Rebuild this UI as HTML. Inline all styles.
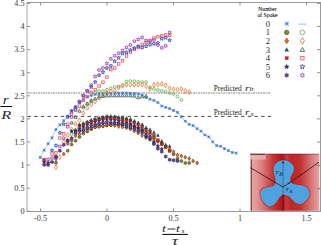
<!DOCTYPE html>
<html><head><meta charset="utf-8"><style>
html,body{margin:0;padding:0;background:#fff;}
svg{display:block;}
text{font-family:"Liberation Serif",serif;fill:#222;}
.tl{font-size:8.2px;fill:#383838;}
.pr{font-size:7.45px;fill:#222;}
.pri{font-size:9px;font-style:italic;fill:#222;}
.prs{font-size:6.6px;font-style:italic;fill:#222;}
.lg{font-size:5.6px;fill:#000;stroke:#000;stroke-width:0.05;}
.ln{font-size:8.6px;fill:#2a2a2a;}
.il{font-size:7px;font-style:italic;fill:#111;}
.al{font-size:12px;font-style:italic;fill:#2a2a2a;}
.xl{font-size:11px;font-style:italic;fill:#2a2a2a;}
.xs{font-size:6.5px;font-style:italic;fill:#111;}
.tk{stroke:#777;stroke-width:0.8;}
.f1{fill:#7d8f3c;stroke:#2e3010;stroke-width:0.5;}
.o1{fill:none;stroke:#5cb040;stroke-width:0.8;}
.f2{fill:#e07418;stroke:#4a2008;stroke-width:0.5;}
.o2{fill:none;stroke:#ec7a38;stroke-width:0.85;}
.f3{fill:#17645a;stroke:#0a2a25;stroke-width:0.4;}
.o3{fill:none;stroke:#3f6252;stroke-width:0.85;}
.f4{fill:#e21a22;stroke:#801010;stroke-width:0.3;}
.o4{fill:none;stroke:#ee5660;stroke-width:0.85;}
.f5{fill:#2a2f78;stroke:#14183c;stroke-width:0.4;}
.o5{fill:none;stroke:#3448b4;stroke-width:0.85;}
.f6{fill:#7246a6;stroke:#26103e;stroke-width:0.55;}
.o6{fill:none;stroke:#9e40b0;stroke-width:0.85;}
.m0{stroke:#387ad8;stroke-width:0.8;fill:none;}
.c0{fill:#2a68cc;}
</style></head>
<body>
<svg width="321" height="245" viewBox="0 0 321 245">
<defs>
<linearGradient id="bg" x1="0" x2="1" y1="0" y2="0">
<stop offset="0" stop-color="#eaa8a8"/>
<stop offset="0.08" stop-color="#e49a9a"/>
<stop offset="0.2" stop-color="#d67070"/>
<stop offset="0.32" stop-color="#c43c3c"/>
<stop offset="0.42" stop-color="#b82020"/>
<stop offset="0.47" stop-color="#b01818"/>
<stop offset="0.52" stop-color="#c43a3a"/>
<stop offset="0.6" stop-color="#bc2626"/>
<stop offset="0.72" stop-color="#c23030"/>
<stop offset="0.86" stop-color="#d46e6e"/>
<stop offset="1" stop-color="#e8a4a4"/>
</linearGradient>
</defs>
<rect x="0" y="0" width="321" height="245" fill="#fff"/>
<!-- axes -->
<line x1="27" y1="2.5" x2="27" y2="211.5" stroke="#d4d4d4" stroke-width="2"/>
<line x1="26.5" y1="211.5" x2="320" y2="211.5" stroke="#9a9a9a" stroke-width="1"/>
<line x1="27" y1="2.5" x2="321" y2="2.5" stroke="#9a9a9a" stroke-width="1"/>
<line x1="320.5" y1="2" x2="320.5" y2="212" stroke="#9a9a9a" stroke-width="1"/>
<line x1="40.50" y1="211.5" x2="40.50" y2="208.5" class="tk"/><line x1="40.50" y1="2.5" x2="40.50" y2="5.5" class="tk"/><line x1="107.00" y1="211.5" x2="107.00" y2="208.5" class="tk"/><line x1="107.00" y1="2.5" x2="107.00" y2="5.5" class="tk"/><line x1="173.50" y1="211.5" x2="173.50" y2="208.5" class="tk"/><line x1="173.50" y1="2.5" x2="173.50" y2="5.5" class="tk"/><line x1="240.00" y1="211.5" x2="240.00" y2="208.5" class="tk"/><line x1="240.00" y1="2.5" x2="240.00" y2="5.5" class="tk"/><line x1="306.50" y1="211.5" x2="306.50" y2="208.5" class="tk"/><line x1="306.50" y1="2.5" x2="306.50" y2="5.5" class="tk"/><line x1="27" y1="211.30" x2="30" y2="211.30" class="tk"/><line x1="320" y1="211.30" x2="317" y2="211.30" class="tk"/><line x1="27" y1="188.20" x2="30" y2="188.20" class="tk"/><line x1="320" y1="188.20" x2="317" y2="188.20" class="tk"/><line x1="27" y1="165.10" x2="30" y2="165.10" class="tk"/><line x1="320" y1="165.10" x2="317" y2="165.10" class="tk"/><line x1="27" y1="142.00" x2="30" y2="142.00" class="tk"/><line x1="320" y1="142.00" x2="317" y2="142.00" class="tk"/><line x1="27" y1="118.90" x2="30" y2="118.90" class="tk"/><line x1="320" y1="118.90" x2="317" y2="118.90" class="tk"/><line x1="27" y1="95.80" x2="30" y2="95.80" class="tk"/><line x1="320" y1="95.80" x2="317" y2="95.80" class="tk"/><line x1="27" y1="72.70" x2="30" y2="72.70" class="tk"/><line x1="320" y1="72.70" x2="317" y2="72.70" class="tk"/><line x1="27" y1="49.60" x2="30" y2="49.60" class="tk"/><line x1="320" y1="49.60" x2="317" y2="49.60" class="tk"/><line x1="27" y1="26.50" x2="30" y2="26.50" class="tk"/><line x1="320" y1="26.50" x2="317" y2="26.50" class="tk"/><line x1="27" y1="3.40" x2="30" y2="3.40" class="tk"/><line x1="320" y1="3.40" x2="317" y2="3.40" class="tk"/>
<text x="40.50" y="220.6" class="tl" text-anchor="middle">-0.5</text><text x="107.00" y="220.6" class="tl" text-anchor="middle">0</text><text x="173.50" y="220.6" class="tl" text-anchor="middle">0.5</text><text x="240.00" y="220.6" class="tl" text-anchor="middle">1</text><text x="306.50" y="220.6" class="tl" text-anchor="middle">1.5</text><text x="24.6" y="214.10" class="tl" text-anchor="end">0</text><text x="24.6" y="191.00" class="tl" text-anchor="end">0.5</text><text x="24.6" y="167.90" class="tl" text-anchor="end">1</text><text x="24.6" y="144.80" class="tl" text-anchor="end">1.5</text><text x="24.6" y="121.70" class="tl" text-anchor="end">2</text><text x="24.6" y="98.60" class="tl" text-anchor="end">2.5</text><text x="24.6" y="75.50" class="tl" text-anchor="end">3</text><text x="24.6" y="52.40" class="tl" text-anchor="end">3.5</text><text x="24.6" y="29.30" class="tl" text-anchor="end">4</text><text x="24.6" y="6.20" class="tl" text-anchor="end">4.5</text>
<!-- predicted lines -->
<line x1="27.75" y1="93" x2="271" y2="93" stroke="#858585" stroke-width="1.15" stroke-dasharray="2.4 0.7 1.2 0.7"/>
<line x1="27.5" y1="116.4" x2="271" y2="116.4" stroke="#333" stroke-width="0.9" stroke-dasharray="3.4 3.275"/>
<text x="213.7" y="91.4" class="pr">Predicted</text><text transform="translate(245.0,91.0) scale(1.3,1)" class="pri">r</text><text transform="translate(249.6,91.3) scale(1.2,1)" class="prs">b</text>
<text x="213.7" y="115.1" class="pr">Predicted</text><text transform="translate(245.0,114.6) scale(1.3,1)" class="pri">r</text><text transform="translate(250.6,116.1) scale(1.25,1)" class="prs">s</text>
<!-- data -->
<path d="M40.26,157.40 L44.18,150.20 L48.10,143.70 L52.02,137.80 L55.94,129.50 L59.86,124.80 L63.78,120.70 L67.70,116.00 L71.62,111.00 L75.54,106.50 L79.46,102.50 L83.38,99.50 L87.30,97.00 L91.22,95.50 L95.14,94.50 L99.06,94.00 L102.98,93.50 L106.90,93.20 L110.82,93.00 L114.74,93.00 L118.66,93.00 L122.58,93.00 L126.50,93.00 L130.42,93.30 L134.34,93.50 L138.26,94.00 L142.18,95.00 L146.10,97.60 L150.02,99.20 L153.94,100.40 L157.86,102.50 L161.78,106.00 L165.70,107.40 L169.62,108.60 L173.54,110.50 L177.46,112.40 L181.38,116.80 L185.30,121.20 L189.22,124.40 L193.14,125.60 L197.06,128.70 L200.98,131.20 L204.90,135.00 L208.82,136.90 L212.74,141.90 L216.66,145.60 L220.58,146.30 L224.50,148.70 L228.42,150.60 L232.34,152.50 L236.26,153.10" fill="none" stroke="#86aee8" stroke-width="0.65"/>
<path class="m0" d="M40.26,156.05L40.26,158.75M38.91,157.40L41.61,157.40M38.91,156.05L41.61,158.75M38.91,158.75L41.61,156.05"/>
<path class="m0" d="M44.18,148.85L44.18,151.55M42.83,150.20L45.53,150.20M42.83,148.85L45.53,151.55M42.83,151.55L45.53,148.85"/>
<path class="m0" d="M48.10,142.35L48.10,145.05M46.75,143.70L49.45,143.70M46.75,142.35L49.45,145.05M46.75,145.05L49.45,142.35"/>
<path class="m0" d="M52.02,136.45L52.02,139.15M50.67,137.80L53.37,137.80M50.67,136.45L53.37,139.15M50.67,139.15L53.37,136.45"/>
<path class="m0" d="M55.94,128.15L55.94,130.85M54.59,129.50L57.29,129.50M54.59,128.15L57.29,130.85M54.59,130.85L57.29,128.15"/>
<path class="m0" d="M59.86,123.45L59.86,126.15M58.51,124.80L61.21,124.80M58.51,123.45L61.21,126.15M58.51,126.15L61.21,123.45"/>
<path class="m0" d="M63.78,119.35L63.78,122.05M62.43,120.70L65.13,120.70M62.43,119.35L65.13,122.05M62.43,122.05L65.13,119.35"/>
<path class="m0" d="M67.70,114.65L67.70,117.35M66.35,116.00L69.05,116.00M66.35,114.65L69.05,117.35M66.35,117.35L69.05,114.65"/>
<path class="m0" d="M71.62,109.65L71.62,112.35M70.27,111.00L72.97,111.00M70.27,109.65L72.97,112.35M70.27,112.35L72.97,109.65"/>
<path class="m0" d="M75.54,105.15L75.54,107.85M74.19,106.50L76.89,106.50M74.19,105.15L76.89,107.85M74.19,107.85L76.89,105.15"/>
<path class="m0" d="M79.46,101.15L79.46,103.85M78.11,102.50L80.81,102.50M78.11,101.15L80.81,103.85M78.11,103.85L80.81,101.15"/>
<path class="m0" d="M83.38,98.15L83.38,100.85M82.03,99.50L84.73,99.50M82.03,98.15L84.73,100.85M82.03,100.85L84.73,98.15"/>
<path class="m0" d="M87.30,95.65L87.30,98.35M85.95,97.00L88.65,97.00M85.95,95.65L88.65,98.35M85.95,98.35L88.65,95.65"/>
<path class="m0" d="M91.22,94.15L91.22,96.85M89.87,95.50L92.57,95.50M89.87,94.15L92.57,96.85M89.87,96.85L92.57,94.15"/>
<path class="m0" d="M95.14,93.15L95.14,95.85M93.79,94.50L96.49,94.50M93.79,93.15L96.49,95.85M93.79,95.85L96.49,93.15"/>
<path class="m0" d="M99.06,92.65L99.06,95.35M97.71,94.00L100.41,94.00M97.71,92.65L100.41,95.35M97.71,95.35L100.41,92.65"/>
<path class="m0" d="M102.98,92.15L102.98,94.85M101.63,93.50L104.33,93.50M101.63,92.15L104.33,94.85M101.63,94.85L104.33,92.15"/>
<path class="m0" d="M106.90,91.85L106.90,94.55M105.55,93.20L108.25,93.20M105.55,91.85L108.25,94.55M105.55,94.55L108.25,91.85"/>
<path class="m0" d="M110.82,91.65L110.82,94.35M109.47,93.00L112.17,93.00M109.47,91.65L112.17,94.35M109.47,94.35L112.17,91.65"/>
<path class="m0" d="M114.74,91.65L114.74,94.35M113.39,93.00L116.09,93.00M113.39,91.65L116.09,94.35M113.39,94.35L116.09,91.65"/>
<path class="m0" d="M118.66,91.65L118.66,94.35M117.31,93.00L120.01,93.00M117.31,91.65L120.01,94.35M117.31,94.35L120.01,91.65"/>
<path class="m0" d="M122.58,91.65L122.58,94.35M121.23,93.00L123.93,93.00M121.23,91.65L123.93,94.35M121.23,94.35L123.93,91.65"/>
<path class="m0" d="M126.50,91.65L126.50,94.35M125.15,93.00L127.85,93.00M125.15,91.65L127.85,94.35M125.15,94.35L127.85,91.65"/>
<path class="m0" d="M130.42,91.95L130.42,94.65M129.07,93.30L131.77,93.30M129.07,91.95L131.77,94.65M129.07,94.65L131.77,91.95"/>
<path class="m0" d="M134.34,92.15L134.34,94.85M132.99,93.50L135.69,93.50M132.99,92.15L135.69,94.85M132.99,94.85L135.69,92.15"/>
<path class="m0" d="M138.26,92.65L138.26,95.35M136.91,94.00L139.61,94.00M136.91,92.65L139.61,95.35M136.91,95.35L139.61,92.65"/>
<path class="m0" d="M142.18,93.65L142.18,96.35M140.83,95.00L143.53,95.00M140.83,93.65L143.53,96.35M140.83,96.35L143.53,93.65"/>
<path class="m0" d="M146.10,96.25L146.10,98.95M144.75,97.60L147.45,97.60M144.75,96.25L147.45,98.95M144.75,98.95L147.45,96.25"/>
<path class="m0" d="M150.02,97.85L150.02,100.55M148.67,99.20L151.37,99.20M148.67,97.85L151.37,100.55M148.67,100.55L151.37,97.85"/>
<path class="m0" d="M153.94,99.05L153.94,101.75M152.59,100.40L155.29,100.40M152.59,99.05L155.29,101.75M152.59,101.75L155.29,99.05"/>
<path class="m0" d="M157.86,101.15L157.86,103.85M156.51,102.50L159.21,102.50M156.51,101.15L159.21,103.85M156.51,103.85L159.21,101.15"/>
<path class="m0" d="M161.78,104.65L161.78,107.35M160.43,106.00L163.13,106.00M160.43,104.65L163.13,107.35M160.43,107.35L163.13,104.65"/>
<path class="m0" d="M165.70,106.05L165.70,108.75M164.35,107.40L167.05,107.40M164.35,106.05L167.05,108.75M164.35,108.75L167.05,106.05"/>
<path class="m0" d="M169.62,107.25L169.62,109.95M168.27,108.60L170.97,108.60M168.27,107.25L170.97,109.95M168.27,109.95L170.97,107.25"/>
<path class="m0" d="M173.54,109.15L173.54,111.85M172.19,110.50L174.89,110.50M172.19,109.15L174.89,111.85M172.19,111.85L174.89,109.15"/>
<path class="m0" d="M177.46,111.05L177.46,113.75M176.11,112.40L178.81,112.40M176.11,111.05L178.81,113.75M176.11,113.75L178.81,111.05"/>
<path class="m0" d="M181.38,115.45L181.38,118.15M180.03,116.80L182.73,116.80M180.03,115.45L182.73,118.15M180.03,118.15L182.73,115.45"/>
<path class="m0" d="M185.30,119.85L185.30,122.55M183.95,121.20L186.65,121.20M183.95,119.85L186.65,122.55M183.95,122.55L186.65,119.85"/>
<path class="m0" d="M189.22,123.05L189.22,125.75M187.87,124.40L190.57,124.40M187.87,123.05L190.57,125.75M187.87,125.75L190.57,123.05"/>
<path class="m0" d="M193.14,124.25L193.14,126.95M191.79,125.60L194.49,125.60M191.79,124.25L194.49,126.95M191.79,126.95L194.49,124.25"/>
<path class="m0" d="M197.06,127.35L197.06,130.05M195.71,128.70L198.41,128.70M195.71,127.35L198.41,130.05M195.71,130.05L198.41,127.35"/>
<path class="m0" d="M200.98,129.85L200.98,132.55M199.63,131.20L202.33,131.20M199.63,129.85L202.33,132.55M199.63,132.55L202.33,129.85"/>
<path class="m0" d="M204.90,133.65L204.90,136.35M203.55,135.00L206.25,135.00M203.55,133.65L206.25,136.35M203.55,136.35L206.25,133.65"/>
<path class="m0" d="M208.82,135.55L208.82,138.25M207.47,136.90L210.17,136.90M207.47,135.55L210.17,138.25M207.47,138.25L210.17,135.55"/>
<path class="m0" d="M212.74,140.55L212.74,143.25M211.39,141.90L214.09,141.90M211.39,140.55L214.09,143.25M211.39,143.25L214.09,140.55"/>
<path class="m0" d="M216.66,144.25L216.66,146.95M215.31,145.60L218.01,145.60M215.31,144.25L218.01,146.95M215.31,146.95L218.01,144.25"/>
<path class="m0" d="M220.58,144.95L220.58,147.65M219.23,146.30L221.93,146.30M219.23,144.95L221.93,147.65M219.23,147.65L221.93,144.95"/>
<path class="m0" d="M224.50,147.35L224.50,150.05M223.15,148.70L225.85,148.70M223.15,147.35L225.85,150.05M223.15,150.05L225.85,147.35"/>
<path class="m0" d="M228.42,149.25L228.42,151.95M227.07,150.60L229.77,150.60M227.07,149.25L229.77,151.95M227.07,151.95L229.77,149.25"/>
<path class="m0" d="M232.34,151.15L232.34,153.85M230.99,152.50L233.69,152.50M230.99,151.15L233.69,153.85M230.99,153.85L233.69,151.15"/>
<path class="m0" d="M236.26,151.75L236.26,154.45M234.91,153.10L237.61,153.10M234.91,151.75L237.61,154.45M234.91,154.45L237.61,151.75"/>
<circle cx="71.62" cy="134.20" r="1.40" class="o1"/>
<circle cx="75.54" cy="130.00" r="1.40" class="o1"/>
<circle cx="79.46" cy="127.20" r="1.40" class="o1"/>
<circle cx="83.38" cy="108.00" r="1.40" class="o1"/>
<circle cx="87.30" cy="103.50" r="1.40" class="o1"/>
<circle cx="91.22" cy="100.20" r="1.40" class="o1"/>
<circle cx="95.14" cy="92.80" r="1.40" class="o1"/>
<circle cx="99.06" cy="91.20" r="1.40" class="o1"/>
<circle cx="102.98" cy="91.20" r="1.40" class="o1"/>
<circle cx="106.90" cy="89.80" r="1.40" class="o1"/>
<circle cx="110.82" cy="88.30" r="1.40" class="o1"/>
<circle cx="114.74" cy="87.00" r="1.40" class="o1"/>
<circle cx="118.66" cy="86.40" r="1.40" class="o1"/>
<circle cx="122.58" cy="85.30" r="1.40" class="o1"/>
<circle cx="126.50" cy="81.50" r="1.40" class="o1"/>
<circle cx="130.42" cy="81.00" r="1.40" class="o1"/>
<circle cx="134.34" cy="81.30" r="1.40" class="o1"/>
<circle cx="138.26" cy="81.80" r="1.40" class="o1"/>
<circle cx="142.18" cy="82.20" r="1.40" class="o1"/>
<circle cx="146.10" cy="82.20" r="1.40" class="o1"/>
<circle cx="150.02" cy="87.30" r="1.40" class="o1"/>
<circle cx="153.94" cy="89.00" r="1.40" class="o1"/>
<circle cx="157.86" cy="90.00" r="1.40" class="o1"/>
<circle cx="161.78" cy="91.00" r="1.40" class="o1"/>
<circle cx="165.70" cy="91.50" r="1.40" class="o1"/>
<circle cx="169.62" cy="93.00" r="1.40" class="o1"/>
<circle cx="173.54" cy="94.00" r="1.40" class="o1"/>
<circle cx="177.46" cy="96.50" r="1.40" class="o1"/>
<circle cx="181.38" cy="100.00" r="1.40" class="o1"/>
<polygon points="55.94,164.85 57.39,167.20 55.94,169.55 54.49,167.20" class="o2"/>
<polygon points="59.86,154.85 61.31,157.20 59.86,159.55 58.41,157.20" class="o2"/>
<polygon points="63.78,139.55 65.23,141.90 63.78,144.25 62.33,141.90" class="o2"/>
<polygon points="67.70,132.65 69.15,135.00 67.70,137.35 66.25,135.00" class="o2"/>
<polygon points="71.62,126.95 73.07,129.30 71.62,131.65 70.17,129.30" class="o2"/>
<polygon points="75.54,121.65 76.99,124.00 75.54,126.35 74.09,124.00" class="o2"/>
<polygon points="79.46,118.15 80.91,120.50 79.46,122.85 78.01,120.50" class="o2"/>
<polygon points="83.38,110.55 84.83,112.90 83.38,115.25 81.93,112.90" class="o2"/>
<polygon points="87.30,105.45 88.75,107.80 87.30,110.15 85.85,107.80" class="o2"/>
<polygon points="91.22,101.85 92.67,104.20 91.22,106.55 89.77,104.20" class="o2"/>
<polygon points="95.14,99.05 96.59,101.40 95.14,103.75 93.69,101.40" class="o2"/>
<polygon points="99.06,95.65 100.51,98.00 99.06,100.35 97.61,98.00" class="o2"/>
<polygon points="102.98,93.15 104.43,95.50 102.98,97.85 101.53,95.50" class="o2"/>
<polygon points="106.90,90.55 108.35,92.90 106.90,95.25 105.45,92.90" class="o2"/>
<polygon points="110.82,88.85 112.27,91.20 110.82,93.55 109.37,91.20" class="o2"/>
<polygon points="114.74,88.15 116.19,90.50 114.74,92.85 113.29,90.50" class="o2"/>
<polygon points="118.66,85.25 120.11,87.60 118.66,89.95 117.21,87.60" class="o2"/>
<polygon points="122.58,83.45 124.03,85.80 122.58,88.15 121.13,85.80" class="o2"/>
<polygon points="126.50,82.45 127.95,84.80 126.50,87.15 125.05,84.80" class="o2"/>
<polygon points="130.42,82.45 131.87,84.80 130.42,87.15 128.97,84.80" class="o2"/>
<polygon points="134.34,82.45 135.79,84.80 134.34,87.15 132.89,84.80" class="o2"/>
<polygon points="138.26,82.45 139.71,84.80 138.26,87.15 136.81,84.80" class="o2"/>
<polygon points="142.18,82.45 143.63,84.80 142.18,87.15 140.73,84.80" class="o2"/>
<polygon points="146.10,83.95 147.55,86.30 146.10,88.65 144.65,86.30" class="o2"/>
<polygon points="150.02,86.65 151.47,89.00 150.02,91.35 148.57,89.00" class="o2"/>
<polygon points="153.94,82.45 155.39,84.80 153.94,87.15 152.49,84.80" class="o2"/>
<polygon points="157.86,81.85 159.31,84.20 157.86,86.55 156.41,84.20" class="o2"/>
<polygon points="161.78,81.35 163.23,83.70 161.78,86.05 160.33,83.70" class="o2"/>
<polygon points="165.70,82.95 167.15,85.30 165.70,87.65 164.25,85.30" class="o2"/>
<polygon points="169.62,85.95 171.07,88.30 169.62,90.65 168.17,88.30" class="o2"/>
<polygon points="173.54,86.95 174.99,89.30 173.54,91.65 172.09,89.30" class="o2"/>
<polygon points="177.46,87.15 178.91,89.50 177.46,91.85 176.01,89.50" class="o2"/>
<polygon points="181.38,86.75 182.83,89.10 181.38,91.45 179.93,89.10" class="o2"/>
<polygon points="185.30,88.55 186.75,90.90 185.30,93.25 183.85,90.90" class="o2"/>
<polygon points="189.22,89.75 190.67,92.10 189.22,94.45 187.77,92.10" class="o2"/>
<polygon points="71.62,121.10 73.27,124.06 69.97,124.06" class="o3"/>
<polygon points="75.54,115.40 77.19,118.36 73.89,118.36" class="o3"/>
<polygon points="79.46,109.20 81.11,112.16 77.81,112.16" class="o3"/>
<polygon points="83.38,104.70 85.03,107.66 81.73,107.66" class="o3"/>
<polygon points="87.30,102.10 88.95,105.06 85.65,105.06" class="o3"/>
<polygon points="91.22,99.10 92.87,102.06 89.57,102.06" class="o3"/>
<polygon points="95.14,97.00 96.79,99.96 93.49,99.96" class="o3"/>
<polygon points="99.06,95.10 100.71,98.06 97.41,98.06" class="o3"/>
<polygon points="102.98,94.40 104.63,97.36 101.33,97.36" class="o3"/>
<polygon points="106.90,94.00 108.55,96.96 105.25,96.96" class="o3"/>
<polygon points="110.82,93.90 112.47,96.86 109.17,96.86" class="o3"/>
<polygon points="114.74,93.90 116.39,96.86 113.09,96.86" class="o3"/>
<polygon points="118.66,93.90 120.31,96.86 117.01,96.86" class="o3"/>
<polygon points="122.58,93.90 124.23,96.86 120.93,96.86" class="o3"/>
<polygon points="126.50,93.90 128.15,96.86 124.85,96.86" class="o3"/>
<polygon points="130.42,93.90 132.07,96.86 128.77,96.86" class="o3"/>
<polygon points="134.34,94.20 135.99,97.16 132.69,97.16" class="o3"/>
<polygon points="138.26,95.70 139.91,98.66 136.61,98.66" class="o3"/>
<polygon points="142.18,94.90 143.83,97.86 140.53,97.86" class="o3"/>
<polygon points="146.10,94.20 147.75,97.16 144.45,97.16" class="o3"/>
<rect x="50.77" y="152.85" width="2.50" height="2.50" class="o4"/>
<rect x="54.69" y="151.65" width="2.50" height="2.50" class="o4"/>
<rect x="58.61" y="136.75" width="2.50" height="2.50" class="o4"/>
<rect x="62.53" y="132.55" width="2.50" height="2.50" class="o4"/>
<rect x="66.45" y="122.95" width="2.50" height="2.50" class="o4"/>
<rect x="70.37" y="113.25" width="2.50" height="2.50" class="o4"/>
<rect x="74.29" y="108.75" width="2.50" height="2.50" class="o4"/>
<rect x="78.21" y="104.95" width="2.50" height="2.50" class="o4"/>
<rect x="82.13" y="99.35" width="2.50" height="2.50" class="o4"/>
<rect x="86.05" y="95.35" width="2.50" height="2.50" class="o4"/>
<rect x="89.97" y="91.25" width="2.50" height="2.50" class="o4"/>
<rect x="93.89" y="88.35" width="2.50" height="2.50" class="o4"/>
<rect x="97.81" y="84.75" width="2.50" height="2.50" class="o4"/>
<rect x="101.73" y="80.95" width="2.50" height="2.50" class="o4"/>
<rect x="105.65" y="75.85" width="2.50" height="2.50" class="o4"/>
<rect x="109.57" y="68.25" width="2.50" height="2.50" class="o4"/>
<rect x="113.49" y="66.75" width="2.50" height="2.50" class="o4"/>
<rect x="117.41" y="62.65" width="2.50" height="2.50" class="o4"/>
<rect x="121.33" y="59.55" width="2.50" height="2.50" class="o4"/>
<rect x="125.25" y="54.75" width="2.50" height="2.50" class="o4"/>
<rect x="129.17" y="50.65" width="2.50" height="2.50" class="o4"/>
<rect x="133.09" y="48.15" width="2.50" height="2.50" class="o4"/>
<rect x="137.01" y="46.25" width="2.50" height="2.50" class="o4"/>
<rect x="140.93" y="43.15" width="2.50" height="2.50" class="o4"/>
<rect x="144.85" y="41.25" width="2.50" height="2.50" class="o4"/>
<rect x="148.77" y="40.00" width="2.50" height="2.50" class="o4"/>
<rect x="152.69" y="36.85" width="2.50" height="2.50" class="o4"/>
<rect x="156.61" y="35.55" width="2.50" height="2.50" class="o4"/>
<rect x="160.53" y="34.65" width="2.50" height="2.50" class="o4"/>
<rect x="164.45" y="33.75" width="2.50" height="2.50" class="o4"/>
<rect x="168.37" y="33.95" width="2.50" height="2.50" class="o4"/>
<polygon points="52.02,148.60 52.49,149.85 53.83,149.91 52.78,150.75 53.14,152.04 52.02,151.30 50.90,152.04 51.26,150.75 50.21,149.91 51.55,149.85" class="o5"/>
<polygon points="55.94,143.70 56.41,144.95 57.75,145.01 56.70,145.85 57.06,147.14 55.94,146.40 54.82,147.14 55.18,145.85 54.13,145.01 55.47,144.95" class="o5"/>
<polygon points="59.86,131.00 60.33,132.25 61.67,132.31 60.62,133.15 60.98,134.44 59.86,133.70 58.74,134.44 59.10,133.15 58.05,132.31 59.39,132.25" class="o5"/>
<polygon points="63.78,122.30 64.25,123.55 65.59,123.61 64.54,124.45 64.90,125.74 63.78,125.00 62.66,125.74 63.02,124.45 61.97,123.61 63.31,123.55" class="o5"/>
<polygon points="67.70,115.10 68.17,116.35 69.51,116.41 68.46,117.25 68.82,118.54 67.70,117.80 66.58,118.54 66.94,117.25 65.89,116.41 67.23,116.35" class="o5"/>
<polygon points="71.62,109.10 72.09,110.35 73.43,110.41 72.38,111.25 72.74,112.54 71.62,111.80 70.50,112.54 70.86,111.25 69.81,110.41 71.15,110.35" class="o5"/>
<polygon points="75.54,105.80 76.01,107.05 77.35,107.11 76.30,107.95 76.66,109.24 75.54,108.50 74.42,109.24 74.78,107.95 73.73,107.11 75.07,107.05" class="o5"/>
<polygon points="79.46,100.10 79.93,101.35 81.27,101.41 80.22,102.25 80.58,103.54 79.46,102.80 78.34,103.54 78.70,102.25 77.65,101.41 78.99,101.35" class="o5"/>
<polygon points="83.38,94.10 83.85,95.35 85.19,95.41 84.14,96.25 84.50,97.54 83.38,96.80 82.26,97.54 82.62,96.25 81.57,95.41 82.91,95.35" class="o5"/>
<polygon points="87.30,89.10 87.77,90.35 89.11,90.41 88.06,91.25 88.42,92.54 87.30,91.80 86.18,92.54 86.54,91.25 85.49,90.41 86.83,90.35" class="o5"/>
<polygon points="91.22,85.00 91.69,86.25 93.03,86.31 91.98,87.15 92.34,88.44 91.22,87.70 90.10,88.44 90.46,87.15 89.41,86.31 90.75,86.25" class="o5"/>
<polygon points="95.14,80.10 95.61,81.35 96.95,81.41 95.90,82.25 96.26,83.54 95.14,82.80 94.02,83.54 94.38,82.25 93.33,81.41 94.67,81.35" class="o5"/>
<polygon points="99.06,73.30 99.53,74.55 100.87,74.61 99.82,75.45 100.18,76.74 99.06,76.00 97.94,76.74 98.30,75.45 97.25,74.61 98.59,74.55" class="o5"/>
<polygon points="102.98,70.30 103.45,71.55 104.79,71.61 103.74,72.45 104.10,73.74 102.98,73.00 101.86,73.74 102.22,72.45 101.17,71.61 102.51,71.55" class="o5"/>
<polygon points="106.90,66.10 107.37,67.35 108.71,67.41 107.66,68.25 108.02,69.54 106.90,68.80 105.78,69.54 106.14,68.25 105.09,67.41 106.43,67.35" class="o5"/>
<polygon points="110.82,64.00 111.29,65.25 112.63,65.31 111.58,66.15 111.94,67.44 110.82,66.70 109.70,67.44 110.06,66.15 109.01,65.31 110.35,65.25" class="o5"/>
<polygon points="114.74,59.40 115.21,60.65 116.55,60.71 115.50,61.55 115.86,62.84 114.74,62.10 113.62,62.84 113.98,61.55 112.93,60.71 114.27,60.65" class="o5"/>
<polygon points="118.66,55.90 119.13,57.15 120.47,57.21 119.42,58.05 119.78,59.34 118.66,58.60 117.54,59.34 117.90,58.05 116.85,57.21 118.19,57.15" class="o5"/>
<polygon points="122.58,51.60 123.05,52.85 124.39,52.91 123.34,53.75 123.70,55.04 122.58,54.30 121.46,55.04 121.82,53.75 120.77,52.91 122.11,52.85" class="o5"/>
<polygon points="126.50,50.60 126.97,51.85 128.31,51.91 127.26,52.75 127.62,54.04 126.50,53.30 125.38,54.04 125.74,52.75 124.69,51.91 126.03,51.85" class="o5"/>
<polygon points="130.42,48.10 130.89,49.35 132.23,49.41 131.18,50.25 131.54,51.54 130.42,50.80 129.30,51.54 129.66,50.25 128.61,49.41 129.95,49.35" class="o5"/>
<polygon points="134.34,46.20 134.81,47.45 136.15,47.51 135.10,48.35 135.46,49.64 134.34,48.90 133.22,49.64 133.58,48.35 132.53,47.51 133.87,47.45" class="o5"/>
<polygon points="138.26,44.35 138.73,45.60 140.07,45.66 139.02,46.50 139.38,47.79 138.26,47.05 137.14,47.79 137.50,46.50 136.45,45.66 137.79,45.60" class="o5"/>
<polygon points="142.18,45.60 142.65,46.85 143.99,46.91 142.94,47.75 143.30,49.04 142.18,48.30 141.06,49.04 141.42,47.75 140.37,46.91 141.71,46.85" class="o5"/>
<polygon points="146.10,44.35 146.57,45.60 147.91,45.66 146.86,46.50 147.22,47.79 146.10,47.05 144.98,47.79 145.34,46.50 144.29,45.66 145.63,45.60" class="o5"/>
<polygon points="150.02,42.80 150.49,44.05 151.83,44.11 150.78,44.95 151.14,46.24 150.02,45.50 148.90,46.24 149.26,44.95 148.21,44.11 149.55,44.05" class="o5"/>
<polygon points="153.94,41.85 154.41,43.10 155.75,43.16 154.70,44.00 155.06,45.29 153.94,44.55 152.82,45.29 153.18,44.00 152.13,43.16 153.47,43.10" class="o5"/>
<polygon points="157.86,41.10 158.33,42.35 159.67,42.41 158.62,43.25 158.98,44.54 157.86,43.80 156.74,44.54 157.10,43.25 156.05,42.41 157.39,42.35" class="o5"/>
<polygon points="161.78,36.80 162.25,38.05 163.59,38.11 162.54,38.95 162.90,40.24 161.78,39.50 160.66,40.24 161.02,38.95 159.97,38.11 161.31,38.05" class="o5"/>
<polygon points="165.70,35.80 166.17,37.05 167.51,37.11 166.46,37.95 166.82,39.24 165.70,38.50 164.58,39.24 164.94,37.95 163.89,37.11 165.23,37.05" class="o5"/>
<polygon points="169.62,38.30 170.09,39.55 171.43,39.61 170.38,40.45 170.74,41.74 169.62,41.00 168.50,41.74 168.86,40.45 167.81,39.61 169.15,39.55" class="o5"/>
<polygon points="48.10,157.60 48.60,158.53 49.66,158.50 49.10,159.40 49.66,160.30 48.60,160.27 48.10,161.20 47.60,160.27 46.54,160.30 47.10,159.40 46.54,158.50 47.60,158.53" class="o6"/>
<polygon points="52.02,156.40 52.52,157.33 53.58,157.30 53.02,158.20 53.58,159.10 52.52,159.07 52.02,160.00 51.52,159.07 50.46,159.10 51.02,158.20 50.46,157.30 51.52,157.33" class="o6"/>
<polygon points="55.94,154.80 56.44,155.73 57.50,155.70 56.94,156.60 57.50,157.50 56.44,157.47 55.94,158.40 55.44,157.47 54.38,157.50 54.94,156.60 54.38,155.70 55.44,155.73" class="o6"/>
<polygon points="59.86,144.60 60.36,145.53 61.42,145.50 60.86,146.40 61.42,147.30 60.36,147.27 59.86,148.20 59.36,147.27 58.30,147.30 58.86,146.40 58.30,145.50 59.36,145.53" class="o6"/>
<polygon points="63.78,136.40 64.28,137.33 65.34,137.30 64.78,138.20 65.34,139.10 64.28,139.07 63.78,140.00 63.28,139.07 62.22,139.10 62.78,138.20 62.22,137.30 63.28,137.33" class="o6"/>
<polygon points="67.70,125.00 68.20,125.93 69.26,125.90 68.70,126.80 69.26,127.70 68.20,127.67 67.70,128.60 67.20,127.67 66.14,127.70 66.70,126.80 66.14,125.90 67.20,125.93" class="o6"/>
<polygon points="71.62,115.20 72.12,116.13 73.18,116.10 72.62,117.00 73.18,117.90 72.12,117.87 71.62,118.80 71.12,117.87 70.06,117.90 70.62,117.00 70.06,116.10 71.12,116.13" class="o6"/>
<polygon points="75.54,107.50 76.04,108.43 77.10,108.40 76.54,109.30 77.10,110.20 76.04,110.17 75.54,111.10 75.04,110.17 73.98,110.20 74.54,109.30 73.98,108.40 75.04,108.43" class="o6"/>
<polygon points="79.46,99.70 79.96,100.63 81.02,100.60 80.46,101.50 81.02,102.40 79.96,102.37 79.46,103.30 78.96,102.37 77.90,102.40 78.46,101.50 77.90,100.60 78.96,100.63" class="o6"/>
<polygon points="83.38,93.70 83.88,94.63 84.94,94.60 84.38,95.50 84.94,96.40 83.88,96.37 83.38,97.30 82.88,96.37 81.82,96.40 82.38,95.50 81.82,94.60 82.88,94.63" class="o6"/>
<polygon points="87.30,88.90 87.80,89.83 88.86,89.80 88.30,90.70 88.86,91.60 87.80,91.57 87.30,92.50 86.80,91.57 85.74,91.60 86.30,90.70 85.74,89.80 86.80,89.83" class="o6"/>
<polygon points="91.22,83.30 91.72,84.23 92.78,84.20 92.22,85.10 92.78,86.00 91.72,85.97 91.22,86.90 90.72,85.97 89.66,86.00 90.22,85.10 89.66,84.20 90.72,84.23" class="o6"/>
<polygon points="95.14,74.70 95.64,75.63 96.70,75.60 96.14,76.50 96.70,77.40 95.64,77.37 95.14,78.30 94.64,77.37 93.58,77.40 94.14,76.50 93.58,75.60 94.64,75.63" class="o6"/>
<polygon points="99.06,68.20 99.56,69.13 100.62,69.10 100.06,70.00 100.62,70.90 99.56,70.87 99.06,71.80 98.56,70.87 97.50,70.90 98.06,70.00 97.50,69.10 98.56,69.13" class="o6"/>
<polygon points="102.98,66.20 103.48,67.13 104.54,67.10 103.98,68.00 104.54,68.90 103.48,68.87 102.98,69.80 102.48,68.87 101.42,68.90 101.98,68.00 101.42,67.10 102.48,67.13" class="o6"/>
<polygon points="106.90,61.60 107.40,62.53 108.46,62.50 107.90,63.40 108.46,64.30 107.40,64.27 106.90,65.20 106.40,64.27 105.34,64.30 105.90,63.40 105.34,62.50 106.40,62.53" class="o6"/>
<polygon points="110.82,57.00 111.32,57.93 112.38,57.90 111.82,58.80 112.38,59.70 111.32,59.67 110.82,60.60 110.32,59.67 109.26,59.70 109.82,58.80 109.26,57.90 110.32,57.93" class="o6"/>
<polygon points="114.74,53.90 115.24,54.83 116.30,54.80 115.74,55.70 116.30,56.60 115.24,56.57 114.74,57.50 114.24,56.57 113.18,56.60 113.74,55.70 113.18,54.80 114.24,54.83" class="o6"/>
<polygon points="118.66,51.40 119.16,52.33 120.22,52.30 119.66,53.20 120.22,54.10 119.16,54.07 118.66,55.00 118.16,54.07 117.10,54.10 117.66,53.20 117.10,52.30 118.16,52.33" class="o6"/>
<polygon points="122.58,48.80 123.08,49.73 124.14,49.70 123.58,50.60 124.14,51.50 123.08,51.47 122.58,52.40 122.08,51.47 121.02,51.50 121.58,50.60 121.02,49.70 122.08,49.73" class="o6"/>
<polygon points="126.50,45.70 127.00,46.63 128.06,46.60 127.50,47.50 128.06,48.40 127.00,48.37 126.50,49.30 126.00,48.37 124.94,48.40 125.50,47.50 124.94,46.60 126.00,46.63" class="o6"/>
<polygon points="130.42,43.20 130.92,44.13 131.98,44.10 131.42,45.00 131.98,45.90 130.92,45.87 130.42,46.80 129.92,45.87 128.86,45.90 129.42,45.00 128.86,44.10 129.92,44.13" class="o6"/>
<polygon points="134.34,39.45 134.84,40.38 135.90,40.35 135.34,41.25 135.90,42.15 134.84,42.12 134.34,43.05 133.84,42.12 132.78,42.15 133.34,41.25 132.78,40.35 133.84,40.38" class="o6"/>
<polygon points="138.26,37.60 138.76,38.53 139.82,38.50 139.26,39.40 139.82,40.30 138.76,40.27 138.26,41.20 137.76,40.27 136.70,40.30 137.26,39.40 136.70,38.50 137.76,38.53" class="o6"/>
<polygon points="142.18,35.70 142.68,36.63 143.74,36.60 143.18,37.50 143.74,38.40 142.68,38.37 142.18,39.30 141.68,38.37 140.62,38.40 141.18,37.50 140.62,36.60 141.68,36.63" class="o6"/>
<polygon points="146.10,38.80 146.60,39.73 147.66,39.70 147.10,40.60 147.66,41.50 146.60,41.47 146.10,42.40 145.60,41.47 144.54,41.50 145.10,40.60 144.54,39.70 145.60,39.73" class="o6"/>
<polygon points="150.02,38.80 150.52,39.73 151.58,39.70 151.02,40.60 151.58,41.50 150.52,41.47 150.02,42.40 149.52,41.47 148.46,41.50 149.02,40.60 148.46,39.70 149.52,39.73" class="o6"/>
<polygon points="153.94,38.20 154.44,39.13 155.50,39.10 154.94,40.00 155.50,40.90 154.44,40.87 153.94,41.80 153.44,40.87 152.38,40.90 152.94,40.00 152.38,39.10 153.44,39.13" class="o6"/>
<polygon points="157.86,43.20 158.36,44.13 159.42,44.10 158.86,45.00 159.42,45.90 158.36,45.87 157.86,46.80 157.36,45.87 156.30,45.90 156.86,45.00 156.30,44.10 157.36,44.13" class="o6"/>
<polygon points="161.78,46.10 162.28,47.03 163.34,47.00 162.78,47.90 163.34,48.80 162.28,48.77 161.78,49.70 161.28,48.77 160.22,48.80 160.78,47.90 160.22,47.00 161.28,47.03" class="o6"/>
<polygon points="165.70,44.10 166.20,45.03 167.26,45.00 166.70,45.90 167.26,46.80 166.20,46.77 165.70,47.70 165.20,46.77 164.14,46.80 164.70,45.90 164.14,45.00 165.20,45.03" class="o6"/>
<polygon points="169.62,30.80 170.12,31.73 171.18,31.70 170.62,32.60 171.18,33.50 170.12,33.47 169.62,34.40 169.12,33.47 168.06,33.50 168.62,32.60 168.06,31.70 169.12,31.73" class="o6"/>
<circle cx="55.94" cy="162.80" r="1.50" class="f1"/>
<circle cx="67.70" cy="150.70" r="1.50" class="f1"/>
<circle cx="71.62" cy="144.50" r="1.50" class="f1"/>
<circle cx="75.54" cy="140.70" r="1.50" class="f1"/>
<circle cx="79.46" cy="137.00" r="1.50" class="f1"/>
<circle cx="83.38" cy="133.60" r="1.50" class="f1"/>
<circle cx="87.30" cy="131.50" r="1.50" class="f1"/>
<circle cx="91.22" cy="129.30" r="1.50" class="f1"/>
<circle cx="95.14" cy="127.20" r="1.50" class="f1"/>
<circle cx="99.06" cy="126.50" r="1.50" class="f1"/>
<circle cx="102.98" cy="126.00" r="1.50" class="f1"/>
<circle cx="106.90" cy="125.50" r="1.50" class="f1"/>
<circle cx="110.82" cy="125.00" r="1.50" class="f1"/>
<circle cx="114.74" cy="124.80" r="1.50" class="f1"/>
<circle cx="118.66" cy="124.50" r="1.50" class="f1"/>
<circle cx="122.58" cy="124.30" r="1.50" class="f1"/>
<circle cx="126.50" cy="124.30" r="1.50" class="f1"/>
<circle cx="130.42" cy="125.00" r="1.50" class="f1"/>
<circle cx="134.34" cy="126.70" r="1.50" class="f1"/>
<circle cx="138.26" cy="128.00" r="1.50" class="f1"/>
<circle cx="142.18" cy="129.60" r="1.50" class="f1"/>
<circle cx="146.10" cy="132.30" r="1.50" class="f1"/>
<circle cx="150.02" cy="134.50" r="1.50" class="f1"/>
<circle cx="153.94" cy="138.00" r="1.50" class="f1"/>
<circle cx="157.86" cy="141.00" r="1.50" class="f1"/>
<circle cx="161.78" cy="144.00" r="1.50" class="f1"/>
<circle cx="165.70" cy="147.00" r="1.50" class="f1"/>
<circle cx="169.62" cy="150.50" r="1.50" class="f1"/>
<circle cx="173.54" cy="154.20" r="1.50" class="f1"/>
<circle cx="177.46" cy="158.50" r="1.50" class="f1"/>
<circle cx="181.38" cy="161.00" r="1.50" class="f1"/>
<circle cx="185.30" cy="162.90" r="1.50" class="f1"/>
<circle cx="189.22" cy="162.90" r="1.50" class="f1"/>
<polygon points="55.94,157.00 57.39,159.00 55.94,161.00 54.49,159.00" class="f2"/>
<polygon points="63.78,152.10 65.23,154.10 63.78,156.10 62.33,154.10" class="f2"/>
<polygon points="67.70,141.60 69.15,143.60 67.70,145.60 66.25,143.60" class="f2"/>
<polygon points="71.62,138.70 73.07,140.70 71.62,142.70 70.17,140.70" class="f2"/>
<polygon points="75.54,133.80 76.99,135.80 75.54,137.80 74.09,135.80" class="f2"/>
<polygon points="79.46,132.20 80.91,134.20 79.46,136.20 78.01,134.20" class="f2"/>
<polygon points="83.38,129.50 84.83,131.50 83.38,133.50 81.93,131.50" class="f2"/>
<polygon points="87.30,127.50 88.75,129.50 87.30,131.50 85.85,129.50" class="f2"/>
<polygon points="91.22,126.00 92.67,128.00 91.22,130.00 89.77,128.00" class="f2"/>
<polygon points="95.14,125.00 96.59,127.00 95.14,129.00 93.69,127.00" class="f2"/>
<polygon points="99.06,124.50 100.51,126.50 99.06,128.50 97.61,126.50" class="f2"/>
<polygon points="102.98,123.70 104.43,125.70 102.98,127.70 101.53,125.70" class="f2"/>
<polygon points="106.90,122.70 108.35,124.70 106.90,126.70 105.45,124.70" class="f2"/>
<polygon points="110.82,123.00 112.27,125.00 110.82,127.00 109.37,125.00" class="f2"/>
<polygon points="114.74,123.50 116.19,125.50 114.74,127.50 113.29,125.50" class="f2"/>
<polygon points="118.66,124.50 120.11,126.50 118.66,128.50 117.21,126.50" class="f2"/>
<polygon points="122.58,125.00 124.03,127.00 122.58,129.00 121.13,127.00" class="f2"/>
<polygon points="126.50,125.70 127.95,127.70 126.50,129.70 125.05,127.70" class="f2"/>
<polygon points="130.42,127.00 131.87,129.00 130.42,131.00 128.97,129.00" class="f2"/>
<polygon points="134.34,129.00 135.79,131.00 134.34,133.00 132.89,131.00" class="f2"/>
<polygon points="138.26,131.00 139.71,133.00 138.26,135.00 136.81,133.00" class="f2"/>
<polygon points="142.18,133.50 143.63,135.50 142.18,137.50 140.73,135.50" class="f2"/>
<polygon points="146.10,135.50 147.55,137.50 146.10,139.50 144.65,137.50" class="f2"/>
<polygon points="150.02,136.50 151.47,138.50 150.02,140.50 148.57,138.50" class="f2"/>
<polygon points="153.94,138.10 155.39,140.10 153.94,142.10 152.49,140.10" class="f2"/>
<polygon points="157.86,139.50 159.31,141.50 157.86,143.50 156.41,141.50" class="f2"/>
<polygon points="161.78,142.00 163.23,144.00 161.78,146.00 160.33,144.00" class="f2"/>
<polygon points="165.70,145.00 167.15,147.00 165.70,149.00 164.25,147.00" class="f2"/>
<polygon points="169.62,147.50 171.07,149.50 169.62,151.50 168.17,149.50" class="f2"/>
<polygon points="173.54,149.80 174.99,151.80 173.54,153.80 172.09,151.80" class="f2"/>
<polygon points="177.46,152.90 178.91,154.90 177.46,156.90 176.01,154.90" class="f2"/>
<polygon points="181.38,154.10 182.83,156.10 181.38,158.10 179.93,156.10" class="f2"/>
<polygon points="185.30,155.30 186.75,157.30 185.30,159.30 183.85,157.30" class="f2"/>
<polygon points="189.22,156.60 190.67,158.60 189.22,160.60 187.77,158.60" class="f2"/>
<polygon points="193.14,159.00 194.59,161.00 193.14,163.00 191.69,161.00" class="f2"/>
<polygon points="197.06,160.90 198.51,162.90 197.06,164.90 195.61,162.90" class="f2"/>
<polygon points="44.18,160.00 44.68,161.31 46.08,161.38 44.99,162.26 45.36,163.62 44.18,162.85 43.00,163.62 43.37,162.26 42.28,161.38 43.68,161.31" class="f5"/>
<polygon points="48.10,160.70 48.60,162.01 50.00,162.08 48.91,162.96 49.28,164.32 48.10,163.55 46.92,164.32 47.29,162.96 46.20,162.08 47.60,162.01" class="f5"/>
<polygon points="67.70,138.30 68.20,139.61 69.60,139.68 68.51,140.56 68.88,141.92 67.70,141.15 66.52,141.92 66.89,140.56 65.80,139.68 67.20,139.61" class="f5"/>
<polygon points="71.62,129.30 72.12,130.61 73.52,130.68 72.43,131.56 72.80,132.92 71.62,132.15 70.44,132.92 70.81,131.56 69.72,130.68 71.12,130.61" class="f5"/>
<polygon points="75.54,128.50 76.04,129.81 77.44,129.88 76.35,130.76 76.72,132.12 75.54,131.35 74.36,132.12 74.73,130.76 73.64,129.88 75.04,129.81" class="f5"/>
<polygon points="79.46,126.90 79.96,128.21 81.36,128.28 80.27,129.16 80.64,130.52 79.46,129.75 78.28,130.52 78.65,129.16 77.56,128.28 78.96,128.21" class="f5"/>
<polygon points="83.38,124.80 83.88,126.11 85.28,126.18 84.19,127.06 84.56,128.42 83.38,127.65 82.20,128.42 82.57,127.06 81.48,126.18 82.88,126.11" class="f5"/>
<polygon points="87.30,123.00 87.80,124.31 89.20,124.38 88.11,125.26 88.48,126.62 87.30,125.85 86.12,126.62 86.49,125.26 85.40,124.38 86.80,124.31" class="f5"/>
<polygon points="91.22,121.50 91.72,122.81 93.12,122.88 92.03,123.76 92.40,125.12 91.22,124.35 90.04,125.12 90.41,123.76 89.32,122.88 90.72,122.81" class="f5"/>
<polygon points="95.14,120.00 95.64,121.31 97.04,121.38 95.95,122.26 96.32,123.62 95.14,122.85 93.96,123.62 94.33,122.26 93.24,121.38 94.64,121.31" class="f5"/>
<polygon points="99.06,119.00 99.56,120.31 100.96,120.38 99.87,121.26 100.24,122.62 99.06,121.85 97.88,122.62 98.25,121.26 97.16,120.38 98.56,120.31" class="f5"/>
<polygon points="102.98,118.00 103.48,119.31 104.88,119.38 103.79,120.26 104.16,121.62 102.98,120.85 101.80,121.62 102.17,120.26 101.08,119.38 102.48,119.31" class="f5"/>
<polygon points="106.90,117.30 107.40,118.61 108.80,118.68 107.71,119.56 108.08,120.92 106.90,120.15 105.72,120.92 106.09,119.56 105.00,118.68 106.40,118.61" class="f5"/>
<polygon points="110.82,117.50 111.32,118.81 112.72,118.88 111.63,119.76 112.00,121.12 110.82,120.35 109.64,121.12 110.01,119.76 108.92,118.88 110.32,118.81" class="f5"/>
<polygon points="114.74,118.00 115.24,119.31 116.64,119.38 115.55,120.26 115.92,121.62 114.74,120.85 113.56,121.62 113.93,120.26 112.84,119.38 114.24,119.31" class="f5"/>
<polygon points="118.66,119.00 119.16,120.31 120.56,120.38 119.47,121.26 119.84,122.62 118.66,121.85 117.48,122.62 117.85,121.26 116.76,120.38 118.16,120.31" class="f5"/>
<polygon points="122.58,119.50 123.08,120.81 124.48,120.88 123.39,121.76 123.76,123.12 122.58,122.35 121.40,123.12 121.77,121.76 120.68,120.88 122.08,120.81" class="f5"/>
<polygon points="126.50,120.50 127.00,121.81 128.40,121.88 127.31,122.76 127.68,124.12 126.50,123.35 125.32,124.12 125.69,122.76 124.60,121.88 126.00,121.81" class="f5"/>
<polygon points="130.42,122.00 130.92,123.31 132.32,123.38 131.23,124.26 131.60,125.62 130.42,124.85 129.24,125.62 129.61,124.26 128.52,123.38 129.92,123.31" class="f5"/>
<polygon points="134.34,124.00 134.84,125.31 136.24,125.38 135.15,126.26 135.52,127.62 134.34,126.85 133.16,127.62 133.53,126.26 132.44,125.38 133.84,125.31" class="f5"/>
<polygon points="138.26,126.00 138.76,127.31 140.16,127.38 139.07,128.26 139.44,129.62 138.26,128.85 137.08,129.62 137.45,128.26 136.36,127.38 137.76,127.31" class="f5"/>
<polygon points="142.18,128.50 142.68,129.81 144.08,129.88 142.99,130.76 143.36,132.12 142.18,131.35 141.00,132.12 141.37,130.76 140.28,129.88 141.68,129.81" class="f5"/>
<polygon points="146.10,134.70 146.60,136.01 148.00,136.08 146.91,136.96 147.28,138.32 146.10,137.55 144.92,138.32 145.29,136.96 144.20,136.08 145.60,136.01" class="f5"/>
<polygon points="150.02,137.60 150.52,138.91 151.92,138.98 150.83,139.86 151.20,141.22 150.02,140.45 148.84,141.22 149.21,139.86 148.12,138.98 149.52,138.91" class="f5"/>
<polygon points="153.94,140.50 154.44,141.81 155.84,141.88 154.75,142.76 155.12,144.12 153.94,143.35 152.76,144.12 153.13,142.76 152.04,141.88 153.44,141.81" class="f5"/>
<polygon points="157.86,144.00 158.36,145.31 159.76,145.38 158.67,146.26 159.04,147.62 157.86,146.85 156.68,147.62 157.05,146.26 155.96,145.38 157.36,145.31" class="f5"/>
<polygon points="161.78,147.00 162.28,148.31 163.68,148.38 162.59,149.26 162.96,150.62 161.78,149.85 160.60,150.62 160.97,149.26 159.88,148.38 161.28,148.31" class="f5"/>
<polygon points="44.18,162.95 44.73,163.85 45.78,163.88 45.28,164.80 45.78,165.73 44.73,165.75 44.18,166.65 43.63,165.75 42.58,165.73 43.08,164.80 42.58,163.88 43.63,163.85" class="f6"/>
<polygon points="48.10,163.05 48.65,163.95 49.70,163.97 49.20,164.90 49.70,165.83 48.65,165.85 48.10,166.75 47.55,165.85 46.50,165.83 47.00,164.90 46.50,163.97 47.55,163.95" class="f6"/>
<polygon points="52.02,160.15 52.57,161.05 53.62,161.07 53.12,162.00 53.62,162.93 52.57,162.95 52.02,163.85 51.47,162.95 50.42,162.93 50.92,162.00 50.42,161.07 51.47,161.05" class="f6"/>
<polygon points="55.94,155.15 56.49,156.05 57.54,156.07 57.04,157.00 57.54,157.93 56.49,157.95 55.94,158.85 55.39,157.95 54.34,157.93 54.84,157.00 54.34,156.07 55.39,156.05" class="f6"/>
<polygon points="59.86,148.85 60.41,149.75 61.46,149.77 60.96,150.70 61.46,151.62 60.41,151.65 59.86,152.55 59.31,151.65 58.26,151.62 58.76,150.70 58.26,149.77 59.31,149.75" class="f6"/>
<polygon points="63.78,142.95 64.33,143.85 65.38,143.88 64.88,144.80 65.38,145.73 64.33,145.75 63.78,146.65 63.23,145.75 62.18,145.73 62.68,144.80 62.18,143.88 63.23,143.85" class="f6"/>
<polygon points="67.70,139.15 68.25,140.05 69.30,140.07 68.80,141.00 69.30,141.93 68.25,141.95 67.70,142.85 67.15,141.95 66.10,141.93 66.60,141.00 66.10,140.07 67.15,140.05" class="f6"/>
<polygon points="71.62,136.35 72.17,137.25 73.22,137.27 72.72,138.20 73.22,139.12 72.17,139.15 71.62,140.05 71.07,139.15 70.02,139.12 70.52,138.20 70.02,137.27 71.07,137.25" class="f6"/>
<polygon points="75.54,131.15 76.09,132.05 77.14,132.07 76.64,133.00 77.14,133.93 76.09,133.95 75.54,134.85 74.99,133.95 73.94,133.93 74.44,133.00 73.94,132.07 74.99,132.05" class="f6"/>
<polygon points="79.46,129.15 80.01,130.05 81.06,130.07 80.56,131.00 81.06,131.93 80.01,131.95 79.46,132.85 78.91,131.95 77.86,131.93 78.36,131.00 77.86,130.07 78.91,130.05" class="f6"/>
<polygon points="83.38,128.15 83.93,129.05 84.98,129.07 84.48,130.00 84.98,130.93 83.93,130.95 83.38,131.85 82.83,130.95 81.78,130.93 82.28,130.00 81.78,129.07 82.83,129.05" class="f6"/>
<polygon points="87.30,126.15 87.85,127.05 88.90,127.08 88.40,128.00 88.90,128.93 87.85,128.95 87.30,129.85 86.75,128.95 85.70,128.93 86.20,128.00 85.70,127.08 86.75,127.05" class="f6"/>
<polygon points="91.22,124.65 91.77,125.55 92.82,125.58 92.32,126.50 92.82,127.42 91.77,127.45 91.22,128.35 90.67,127.45 89.62,127.42 90.12,126.50 89.62,125.58 90.67,125.55" class="f6"/>
<polygon points="95.14,123.15 95.69,124.05 96.74,124.08 96.24,125.00 96.74,125.92 95.69,125.95 95.14,126.85 94.59,125.95 93.54,125.92 94.04,125.00 93.54,124.08 94.59,124.05" class="f6"/>
<polygon points="99.06,122.15 99.61,123.05 100.66,123.08 100.16,124.00 100.66,124.92 99.61,124.95 99.06,125.85 98.51,124.95 97.46,124.92 97.96,124.00 97.46,123.08 98.51,123.05" class="f6"/>
<polygon points="102.98,121.15 103.53,122.05 104.58,122.08 104.08,123.00 104.58,123.92 103.53,123.95 102.98,124.85 102.43,123.95 101.38,123.92 101.88,123.00 101.38,122.08 102.43,122.05" class="f6"/>
<polygon points="106.90,120.65 107.45,121.55 108.50,121.58 108.00,122.50 108.50,123.42 107.45,123.45 106.90,124.35 106.35,123.45 105.30,123.42 105.80,122.50 105.30,121.58 106.35,121.55" class="f6"/>
<polygon points="110.82,120.95 111.37,121.85 112.42,121.88 111.92,122.80 112.42,123.72 111.37,123.75 110.82,124.65 110.27,123.75 109.22,123.72 109.72,122.80 109.22,121.88 110.27,121.85" class="f6"/>
<polygon points="114.74,121.15 115.29,122.05 116.34,122.08 115.84,123.00 116.34,123.92 115.29,123.95 114.74,124.85 114.19,123.95 113.14,123.92 113.64,123.00 113.14,122.08 114.19,122.05" class="f6"/>
<polygon points="118.66,121.65 119.21,122.55 120.26,122.58 119.76,123.50 120.26,124.42 119.21,124.45 118.66,125.35 118.11,124.45 117.06,124.42 117.56,123.50 117.06,122.58 118.11,122.55" class="f6"/>
<polygon points="122.58,122.65 123.13,123.55 124.18,123.58 123.68,124.50 124.18,125.42 123.13,125.45 122.58,126.35 122.03,125.45 120.98,125.42 121.48,124.50 120.98,123.58 122.03,123.55" class="f6"/>
<polygon points="126.50,124.65 127.05,125.55 128.10,125.58 127.60,126.50 128.10,127.42 127.05,127.45 126.50,128.35 125.95,127.45 124.90,127.42 125.40,126.50 124.90,125.58 125.95,125.55" class="f6"/>
<polygon points="130.42,125.65 130.97,126.55 132.02,126.58 131.52,127.50 132.02,128.43 130.97,128.45 130.42,129.35 129.87,128.45 128.82,128.43 129.32,127.50 128.82,126.58 129.87,126.55" class="f6"/>
<polygon points="134.34,127.15 134.89,128.05 135.94,128.07 135.44,129.00 135.94,129.93 134.89,129.95 134.34,130.85 133.79,129.95 132.74,129.93 133.24,129.00 132.74,128.07 133.79,128.05" class="f6"/>
<polygon points="138.26,129.15 138.81,130.05 139.86,130.07 139.36,131.00 139.86,131.93 138.81,131.95 138.26,132.85 137.71,131.95 136.66,131.93 137.16,131.00 136.66,130.07 137.71,130.05" class="f6"/>
<polygon points="142.18,130.65 142.73,131.55 143.78,131.57 143.28,132.50 143.78,133.43 142.73,133.45 142.18,134.35 141.63,133.45 140.58,133.43 141.08,132.50 140.58,131.57 141.63,131.55" class="f6"/>
<polygon points="146.10,132.85 146.65,133.75 147.70,133.77 147.20,134.70 147.70,135.62 146.65,135.65 146.10,136.55 145.55,135.65 144.50,135.62 145.00,134.70 144.50,133.77 145.55,133.75" class="f6"/>
<polygon points="150.02,135.35 150.57,136.25 151.62,136.27 151.12,137.20 151.62,138.12 150.57,138.15 150.02,139.05 149.47,138.15 148.42,138.12 148.92,137.20 148.42,136.27 149.47,136.25" class="f6"/>
<polygon points="153.94,142.15 154.49,143.05 155.54,143.07 155.04,144.00 155.54,144.93 154.49,144.95 153.94,145.85 153.39,144.95 152.34,144.93 152.84,144.00 152.34,143.07 153.39,143.05" class="f6"/>
<polygon points="157.86,146.75 158.41,147.65 159.46,147.67 158.96,148.60 159.46,149.53 158.41,149.55 157.86,150.45 157.31,149.55 156.26,149.53 156.76,148.60 156.26,147.67 157.31,147.65" class="f6"/>
<polygon points="161.78,149.75 162.33,150.65 163.38,150.67 162.88,151.60 163.38,152.53 162.33,152.55 161.78,153.45 161.23,152.55 160.18,152.53 160.68,151.60 160.18,150.67 161.23,150.65" class="f6"/>
<polygon points="165.70,154.65 166.25,155.55 167.30,155.57 166.80,156.50 167.30,157.43 166.25,157.45 165.70,158.35 165.15,157.45 164.10,157.43 164.60,156.50 164.10,155.57 165.15,155.55" class="f6"/>
<polygon points="169.62,157.85 170.17,158.75 171.22,158.77 170.72,159.70 171.22,160.62 170.17,160.65 169.62,161.55 169.07,160.65 168.02,160.62 168.52,159.70 168.02,158.77 169.07,158.75" class="f6"/>
<polygon points="173.54,158.45 174.09,159.35 175.14,159.38 174.64,160.30 175.14,161.23 174.09,161.25 173.54,162.15 172.99,161.25 171.94,161.23 172.44,160.30 171.94,159.38 172.99,159.35" class="f6"/>
<polygon points="177.46,159.15 178.01,160.05 179.06,160.07 178.56,161.00 179.06,161.93 178.01,161.95 177.46,162.85 176.91,161.95 175.86,161.93 176.36,161.00 175.86,160.07 176.91,160.05" class="f6"/>
<rect x="42.78" y="158.40" width="2.80" height="2.80" class="f4"/>
<rect x="78.06" y="124.40" width="2.80" height="2.80" class="f4"/>
<rect x="81.98" y="123.10" width="2.80" height="2.80" class="f4"/>
<rect x="85.90" y="121.60" width="2.80" height="2.80" class="f4"/>
<rect x="89.82" y="120.10" width="2.80" height="2.80" class="f4"/>
<rect x="93.74" y="118.80" width="2.80" height="2.80" class="f4"/>
<rect x="97.66" y="117.80" width="2.80" height="2.80" class="f4"/>
<rect x="101.58" y="116.90" width="2.80" height="2.80" class="f4"/>
<rect x="105.50" y="116.00" width="2.80" height="2.80" class="f4"/>
<rect x="109.42" y="116.20" width="2.80" height="2.80" class="f4"/>
<rect x="113.34" y="116.60" width="2.80" height="2.80" class="f4"/>
<rect x="117.26" y="117.40" width="2.80" height="2.80" class="f4"/>
<rect x="121.18" y="117.90" width="2.80" height="2.80" class="f4"/>
<rect x="125.10" y="118.40" width="2.80" height="2.80" class="f4"/>
<rect x="129.02" y="119.60" width="2.80" height="2.80" class="f4"/>
<rect x="132.94" y="121.40" width="2.80" height="2.80" class="f4"/>
<rect x="136.86" y="123.10" width="2.80" height="2.80" class="f4"/>
<rect x="140.78" y="125.30" width="2.80" height="2.80" class="f4"/>
<rect x="144.70" y="128.40" width="2.80" height="2.80" class="f4"/>
<rect x="148.62" y="130.90" width="2.80" height="2.80" class="f4"/>
<rect x="152.54" y="134.30" width="2.80" height="2.80" class="f4"/>
<rect x="156.46" y="138.70" width="2.80" height="2.80" class="f4"/>
<rect x="160.38" y="142.40" width="2.80" height="2.80" class="f4"/>
<rect x="164.30" y="145.30" width="2.80" height="2.80" class="f4"/>
<rect x="168.22" y="149.60" width="2.80" height="2.80" class="f4"/>
<polygon points="79.46,123.00 80.96,125.78 77.96,125.78" class="f3"/>
<polygon points="83.38,121.50 84.88,124.28 81.88,124.28" class="f3"/>
<polygon points="87.30,119.90 88.80,122.68 85.80,122.68" class="f3"/>
<polygon points="91.22,118.30 92.72,121.08 89.72,121.08" class="f3"/>
<polygon points="95.14,117.20 96.64,119.98 93.64,119.98" class="f3"/>
<polygon points="99.06,116.20 100.56,118.98 97.56,118.98" class="f3"/>
<polygon points="102.98,115.40 104.48,118.18 101.48,118.18" class="f3"/>
<polygon points="106.90,114.40 108.40,117.18 105.40,117.18" class="f3"/>
<polygon points="110.82,114.50 112.32,117.28 109.32,117.28" class="f3"/>
<polygon points="114.74,114.80 116.24,117.58 113.24,117.58" class="f3"/>
<polygon points="118.66,115.50 120.16,118.28 117.16,118.28" class="f3"/>
<polygon points="122.58,115.80 124.08,118.58 121.08,118.58" class="f3"/>
<polygon points="126.50,116.40 128.00,119.18 125.00,119.18" class="f3"/>
<polygon points="130.42,117.50 131.92,120.28 128.92,120.28" class="f3"/>
<polygon points="134.34,119.30 135.84,122.08 132.84,122.08" class="f3"/>
<polygon points="138.26,121.00 139.76,123.78 136.76,123.78" class="f3"/>
<polygon points="142.18,122.80 143.68,125.58 140.68,125.58" class="f3"/>
<polygon points="146.10,125.90 147.60,128.68 144.60,128.68" class="f3"/>
<polygon points="150.02,127.90 151.52,130.68 148.52,130.68" class="f3"/>
<polygon points="153.94,130.80 155.44,133.58 152.44,133.58" class="f3"/>
<polygon points="157.86,133.70 159.36,136.47 156.36,136.47" class="f3"/>
<polygon points="161.78,139.50 163.28,142.28 160.28,142.28" class="f3"/>
<polygon points="165.70,143.20 167.20,145.97 164.20,145.97" class="f3"/>
<polygon points="169.62,144.60 171.12,147.38 168.12,147.38" class="f3"/>
<!-- legend -->
<text x="267.5" y="11" class="lg" text-anchor="middle">Number</text>
<text x="267.5" y="17.3" class="lg" text-anchor="middle">of Spoke</text>
<text x="267.9" y="26.60" class="ln" text-anchor="middle">0</text>
<path class="m0" style="stroke-width:0.75" d="M286.80,21.74L286.80,25.66M284.84,23.70L288.76,23.70M284.84,21.74L288.76,25.66M284.84,25.66L288.76,21.74"/><line x1="298.4" y1="24.10" x2="306.5" y2="24.10" stroke="#8fb4e8" stroke-width="0.9"/><text x="267.9" y="35.30" class="ln" text-anchor="middle">1</text>
<circle cx="286.70" cy="32.40" r="2.25" class="f1"/><circle cx="302.40" cy="32.40" r="2.31" class="o1"/><text x="267.9" y="43.80" class="ln" text-anchor="middle">2</text>
<polygon points="286.70,38.20 288.66,40.90 286.70,43.60 284.74,40.90" class="f2"/><polygon points="302.40,37.49 304.50,40.90 302.40,44.31 300.30,40.90" class="o2"/><text x="267.9" y="52.50" class="ln" text-anchor="middle">3</text>
<polygon points="286.70,47.73 288.57,51.19 284.82,51.19" class="f3"/><polygon points="302.40,47.44 304.63,51.44 300.17,51.44" class="o3"/><text x="267.9" y="61.10" class="ln" text-anchor="middle">4</text>
<rect x="285.16" y="56.66" width="3.08" height="3.08" class="f4"/><rect x="300.71" y="56.51" width="3.38" height="3.38" class="o4"/><text x="267.9" y="69.70" class="ln" text-anchor="middle">5</text>
<polygon points="286.70,64.30 287.32,65.94 289.08,66.03 287.71,67.13 288.17,68.82 286.70,67.86 285.23,68.82 285.69,67.13 284.32,66.03 286.08,65.94" class="f5"/><polygon points="302.40,64.23 303.03,65.93 304.84,66.01 303.43,67.13 303.91,68.88 302.40,67.88 300.89,68.88 301.37,67.13 299.96,66.01 301.77,65.93" class="o5"/><text x="267.9" y="78.20" class="ln" text-anchor="middle">6</text>
<polygon points="286.70,73.17 287.33,74.20 288.54,74.24 287.96,75.30 288.54,76.36 287.33,76.40 286.70,77.43 286.07,76.40 284.86,76.36 285.44,75.30 284.86,74.24 286.07,74.20" class="f6"/><polygon points="302.40,73.14 303.00,74.26 304.27,74.22 303.60,75.30 304.27,76.38 303.00,76.34 302.40,77.46 301.80,76.34 300.53,76.38 301.20,75.30 300.53,74.22 301.80,74.26" class="o6"/>
<!-- inset -->
<g>
<rect x="250.2" y="153.8" width="69.2" height="57" fill="url(#bg)"/>
<line x1="250.2" y1="154.2" x2="319" y2="154.2" stroke="#401010" stroke-width="0.6" opacity="0.6"/>
<rect x="250.7" y="154.6" width="14.6" height="4.5" fill="#eab4b4" stroke="#f4d0d0" stroke-width="0.5" opacity="0.8"/>
<line x1="250.2" y1="154.3" x2="265.2" y2="154.3" stroke="#403030" stroke-width="1"/>
<line x1="251.4" y1="159.2" x2="251.4" y2="210.8" stroke="#5a3a3a" stroke-width="0.9"/>
<path d="M283.5,160.7 C286.8,160.5 291.4,162.4 293.3,166.5 C294.5,170.5 291.5,174.5 290,177.5 C289.5,180 290,182.5 292,184 C295,185.3 300,185.2 304,186.2 C307.5,187.5 309.5,191 309.2,194 C308.8,198 305,202 301.5,203.5 C297.5,205 293.5,201 290.5,197.5 C288.5,195.3 285.5,194.1 283.2,194.3 C281,194.5 279,197.5 277,200.5 C275,204 272,206.5 269.5,206 C265,205 262,200 261,196 C260.2,192.5 261.5,189.5 264.5,188.5 C268,187.5 272,187.2 274.5,185.5 C276.5,183.5 276.2,180 275.3,177 C274.3,173.5 273.5,170 274.2,166.5 C275.3,163 279,160.8 283.5,160.7 Z" fill="none" stroke="#b81818" stroke-width="2.6" opacity="0.7"/>
<path d="M283.5,160.7 C286.8,160.5 291.4,162.4 293.3,166.5 C294.5,170.5 291.5,174.5 290,177.5 C289.5,180 290,182.5 292,184 C295,185.3 300,185.2 304,186.2 C307.5,187.5 309.5,191 309.2,194 C308.8,198 305,202 301.5,203.5 C297.5,205 293.5,201 290.5,197.5 C288.5,195.3 285.5,194.1 283.2,194.3 C281,194.5 279,197.5 277,200.5 C275,204 272,206.5 269.5,206 C265,205 262,200 261,196 C260.2,192.5 261.5,189.5 264.5,188.5 C268,187.5 272,187.2 274.5,185.5 C276.5,183.5 276.2,180 275.3,177 C274.3,173.5 273.5,170 274.2,166.5 C275.3,163 279,160.8 283.5,160.7 Z" fill="#4fa2df" stroke="#45bdf0" stroke-width="0.7"/>
<line x1="250.2" y1="167.6" x2="283.1" y2="187.1" stroke="#2a1010" stroke-width="0.8"/>
<line x1="319" y1="162.2" x2="283.1" y2="187.1" stroke="#2a1010" stroke-width="0.8"/>
<line x1="283.1" y1="161.5" x2="283.1" y2="194" stroke="#1a1a30" stroke-width="0.7" opacity="0.5"/><line x1="283.1" y1="194" x2="283.1" y2="210.8" stroke="#1a1010" stroke-width="0.8" opacity="0.8"/>
<circle cx="283.1" cy="162.4" r="0.9" fill="#111"/>
<circle cx="289.1" cy="183.1" r="0.7" fill="#111"/>
<text transform="translate(275.8,174.3) scale(1.2,1)" class="il">r</text><text transform="translate(279.3,175.8) scale(1.1,1)" class="il">b</text>
<text transform="translate(286.0,190.8) scale(1.2,1)" class="il">r</text><text transform="translate(289.5,193.0) scale(1.15,1)" class="il">s</text>
</g>
<line x1="320.5" y1="150" x2="320.5" y2="212" stroke="#9a9a9a" stroke-width="1"/>
<line x1="250" y1="211.5" x2="320" y2="211.5" stroke="#9a9a9a" stroke-width="1"/>
<line x1="306.5" y1="211.5" x2="306.5" y2="208.5" class="tk"/>
<line x1="320" y1="188.9" x2="317" y2="188.9" class="tk"/><line x1="320" y1="165.8" x2="317" y2="165.8" class="tk"/>
<!-- axis labels -->
<text transform="translate(5.6,103.6) scale(1.25,1)" class="al" text-anchor="middle">r</text>
<line x1="0.5" y1="106.5" x2="12" y2="106.5" stroke="#000" stroke-width="1"/>
<text transform="translate(6.1,118.9) scale(1.25,1)" class="al" style="font-size:13px" text-anchor="middle">R</text>
<text transform="translate(162.0,231.9) scale(1.3,1)" class="xl">t</text><line x1="167.5" y1="229" x2="175.4" y2="229" stroke="#000" stroke-width="0.8"/><text transform="translate(175.9,231.9) scale(1.3,1)" class="xl">t</text><text transform="translate(181.4,232.7) scale(1.2,1)" class="xs">s</text>
<line x1="162.3" y1="234.4" x2="188" y2="234.4" stroke="#000" stroke-width="1"/>
<text transform="translate(174.9,245.3) scale(1.4,1)" class="xl" style="font-size:13px" text-anchor="middle">τ</text>
</svg>
</body></html>
